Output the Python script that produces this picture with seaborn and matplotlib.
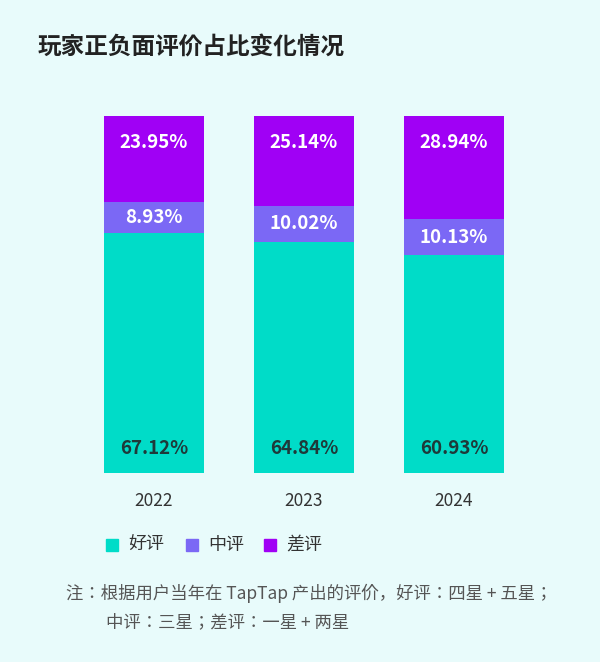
import matplotlib
matplotlib.use("Agg")

import matplotlib.pyplot as plt
from matplotlib import font_manager
import pandas as pd
import seaborn as sns
from matplotlib.patches import Rectangle

cjk = [f.name for f in font_manager.fontManager.ttflist if "CJK" in f.name]
cjk = sorted(set(cjk), key=lambda n: (0 if "SC" in n else 1, n))
plt.rcParams["font.family"] = "sans-serif"
plt.rcParams["font.sans-serif"] = cjk + ["DejaVu Sans"]

years = ["2022", "2023", "2024"]
good = [67.12, 64.84, 60.93]
mid = [8.93, 10.02, 10.13]
bad = [23.95, 25.14, 28.94]
series_names = ["好评", "中评", "差评"]
colors = ["#00dcc8", "#7b68f5", "#a000f5"]
bg = "#e8fbfb"

df = pd.DataFrame({"year": years, "good": good, "mid": mid, "bad": bad})

fig = plt.figure(figsize=(6.0, 6.62), dpi=100, facecolor=bg)
ax = fig.add_axes([79 / 600, 1 - 473 / 662, 450 / 600, 357 / 662])
ax.set_facecolor(bg)

bottoms = [0, 0, 0]
for col, c in zip(["good", "mid", "bad"], colors):
    sns.barplot(data=df, x="year", y=col, color=c, width=0.667,
                bottom=bottoms, ax=ax, saturation=1)
    bottoms = [b + v for b, v in zip(bottoms, df[col])]

ax.set_xlim(-0.5, 2.5)
ax.set_ylim(0, 100)
for i in range(3):
    ax.text(i, 7, f"{good[i]:.2f}%", ha="center", va="center",
            fontsize=13.5, fontweight="bold", color="#1e3a3a")
    ax.text(i, good[i] + mid[i] / 2, f"{mid[i]:.2f}%", ha="center",
            va="center", fontsize=13.5, fontweight="bold", color="white")
    ax.text(i, 100 - 7.3, f"{bad[i]:.2f}%", ha="center", va="center",
            fontsize=13.5, fontweight="bold", color="white")

ax.set_xlabel("")
ax.set_ylabel("")
ax.set_yticks([])
ax.tick_params(axis="x", length=0, labelsize=12.5, colors="#333333", pad=14)
sns.despine(ax=ax, left=True, bottom=True)

fig.text(38 / 600, 1 - 48 / 662, "玩家正负面评价占比变化情况", fontsize=17,
         fontweight="bold", color="#222222", va="center")

# legend
lx = [106, 186, 264]
for x, name, c in zip(lx, series_names, colors):
    fig.patches.append(Rectangle((x / 600, 1 - 551 / 662), 12 / 600, 12 / 662,
                                 transform=fig.transFigure, color=c))
    fig.text((x + 22) / 600, 1 - 545 / 662, name, fontsize=13,
             color="#333333", va="center")

fig.text(66 / 600, 1 - 593 / 662,
         "注：根据用户当年在 TapTap 产出的评价，好评：四星 + 五星；",
         fontsize=12.5, color="#555555", va="center")
fig.text(106 / 600, 1 - 622 / 662, "中评：三星；差评：一星 + 两星",
         fontsize=12.5, color="#555555", va="center")

fig.savefig("out.png", dpi=100, facecolor=bg)
